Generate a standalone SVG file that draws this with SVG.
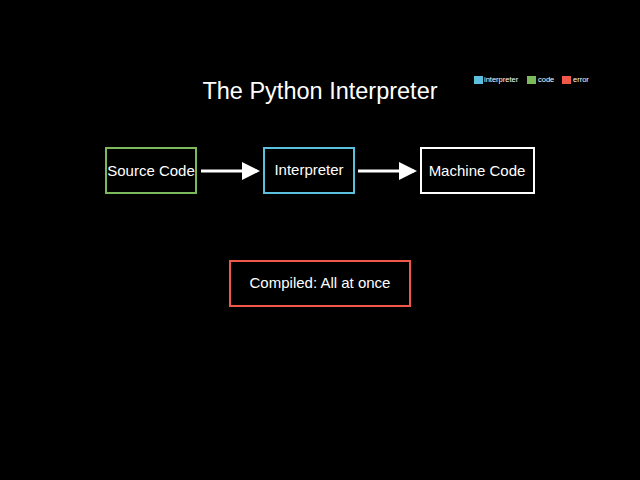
<svg xmlns="http://www.w3.org/2000/svg" width="640" height="480" viewBox="0 0 640 480">
<defs>
<style>
text{font-family:"Liberation Sans",Arial,sans-serif;fill:#fff}
.n{fill:#000;stroke-width:2}
.c{stroke:#fff;stroke-width:3;fill:none;marker-end:url(#a)}
.l{font-size:7.5px}
</style>
<marker id="a" markerWidth="6" markerHeight="6" refX="5" refY="3" orient="auto" markerUnits="strokeWidth"><path d="M0,0L6,3L0,6Z" fill="#fff"/></marker>
</defs>
<rect width="640" height="480" fill="#000"/>
<text x="320" y="99" font-size="23.5" text-anchor="middle">The Python Interpreter</text>
<g id="legend">
<rect x="474" y="76" width="9" height="8" fill="#5bc0de"/><text class="l" x="484" y="82">interpreter</text>
<rect x="527" y="76" width="9" height="8" fill="#7cb95c"/><text class="l" x="538" y="82">code</text>
<rect x="562" y="76" width="9" height="8" fill="#f0584a"/><text class="l" x="573" y="82">error</text>
</g>
<g id="connectors">
<line class="c" x1="201" y1="171" x2="257" y2="171"/>
<line class="c" x1="358" y1="171" x2="414" y2="171"/>
</g>
<g id="source"><rect class="n" x="106" y="148" width="90" height="45" stroke="#7cb95c"/><text x="151" y="176" font-size="15" text-anchor="middle">Source Code</text></g>
<g id="interp"><rect class="n" x="264" y="148" width="90" height="45" stroke="#5bc0de"/><text x="309" y="175" font-size="15" text-anchor="middle">Interpreter</text></g>
<g id="machine"><rect class="n" x="421" y="148" width="113" height="45" stroke="#fff"/><text x="477" y="176" font-size="15" text-anchor="middle">Machine Code</text></g>
<g id="compiled"><rect class="n" x="230" y="261" width="180" height="45" stroke="#f0584a"/><text x="320" y="288" font-size="15" text-anchor="middle">Compiled: All at once</text></g>
</svg>
